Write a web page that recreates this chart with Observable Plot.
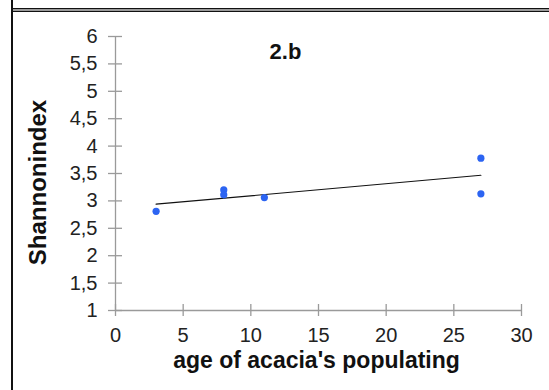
<!DOCTYPE html>
<html>
<head>
<meta charset="utf-8">
<script src="https://cdn.jsdelivr.net/npm/d3@7"></script>
<script src="https://cdn.jsdelivr.net/npm/@observablehq/plot@0.6"></script>
<style>
  html, body { margin: 0; padding: 0; background: #fff; }
  #wrap { position: relative; width: 549px; height: 390px; overflow: hidden; }
  #wrap svg { position: absolute; left: 0; top: 0; }
  .vline { position: absolute; left: 11px; top: 0; width: 1.5px; height: 390px; background: #111; }
  .hline { position: absolute; left: 11px; top: 7.5px; width: 538px; height: 2px; background: #9a9a9a; border-top: 1px solid #111; border-bottom: 1px solid #111; }
</style>
</head>
<body>
<div id="wrap"><div class="hline"></div><div class="vline"></div></div>
<script>
const ages = [3, 8, 8, 11, 27, 27];
const shannon = [2.81, 3.20, 3.11, 3.06, 3.78, 3.13];
const xTicks = [0, 5, 10, 15, 20, 25, 30];
const yTicks = [1, 1.5, 2, 2.5, 3, 3.5, 4, 4.5, 5, 5.5, 6];
const title = "2.b";
const xLabel = "age of acacia's populating";
const yLabel = "Shannonindex";

const data = ages.map((a, i) => ({age: a, h: shannon[i]}));
const gray = "#9a9a9a";
const font = "Liberation Sans, Arial, sans-serif";
const comma = d => String(d).replace(".", ",");

const chart = Plot.plot({
  width: 549,
  height: 390,
  marginLeft: 115,
  marginRight: 28,
  marginTop: 36,
  marginBottom: 80,
  style: {fontFamily: font, background: "transparent", overflow: "visible"},
  x: {domain: [0, 30]},
  y: {domain: [1, 6]},
  marks: [
    Plot.ruleX([0], {stroke: gray, strokeWidth: 1.3}),
    Plot.ruleY([1], {stroke: gray, strokeWidth: 1.3}),
    Plot.axisY({ticks: yTicks, tickSize: 14, dx: 7, text: null, label: null, stroke: gray, strokeWidth: 1.3}),
    Plot.axisY({ticks: yTicks, tickSize: 0, tickPadding: 18, tickFormat: comma, label: null, fontSize: 20, fill: "#222"}),
    Plot.axisX({ticks: xTicks, tickSize: 12, dy: -6, text: null, label: null, stroke: gray, strokeWidth: 1.3}),
    Plot.axisX({ticks: xTicks, tickSize: 0, tickPadding: 17, label: null, fontSize: 20, fill: "#222"}),
    Plot.linearRegressionY(data, {x: "age", y: "h", stroke: "#111", strokeWidth: 1.2, ci: 0}),
    Plot.dot(data, {x: "age", y: "h", r: 3.6, fill: "#2c64f2", stroke: "none"}),
    Plot.text([title], {frameAnchor: "top", dx: -33, dy: 7, fontSize: 22, fontWeight: "bold", fill: "#111"}),
    Plot.text([xLabel], {frameAnchor: "bottom", dx: -2, dy: 57, fontSize: 23, fontWeight: "bold", fill: "#111"}),
    Plot.text([yLabel], {frameAnchor: "left", textAnchor: "middle", rotate: -90, dx: -77, dy: 9, fontSize: 24, fontWeight: "bold", fill: "#111", letterSpacing: 1.2})
  ]
});
document.getElementById("wrap").prepend(chart);
</script>
</body>
</html>
